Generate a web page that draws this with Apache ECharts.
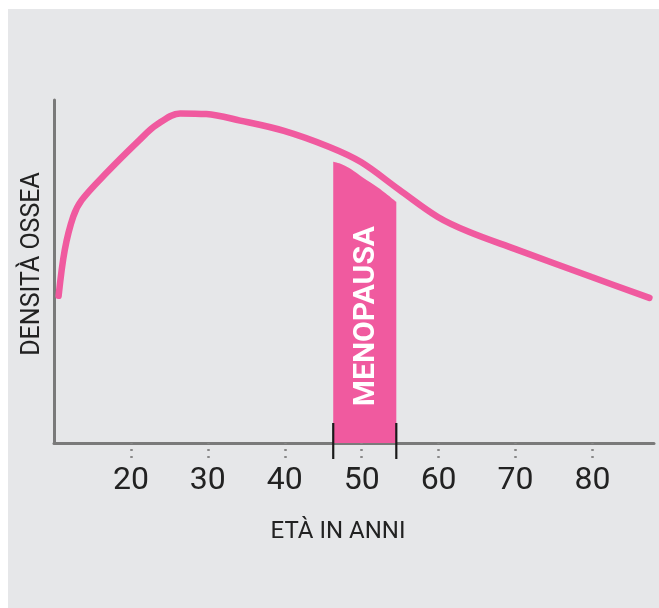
<!DOCTYPE html>
<html>
<head>
<meta charset="utf-8">
<script src="https://cdn.jsdelivr.net/npm/echarts@6/dist/echarts.min.js"></script>
<style>
html,body{margin:0;padding:0;background:#ffffff;width:659px;height:608px;overflow:hidden;}
#chart{position:absolute;left:8px;top:9px;width:651px;height:599px;background:#e6e7e9;}
</style>
</head>
<body>
<div id="chart"></div>
<script>
// Bone density curve (age, relative density)
const ageX = [10.6, 11.4, 12.5, 13.6, 16.8, 21.1, 23.3, 26.4, 29.8, 34.2, 39.9, 45.8, 49.9, 54.9, 59.9, 64.0, 69.9, 79.9, 87.4];
const densityY = [42.9, 56.3, 66.0, 70.8, 78.7, 88.3, 92.7, 96.1, 95.9, 94.0, 91.0, 86.3, 81.9, 73.8, 65.9, 61.5, 56.6, 48.4, 42.3];
// Menopause band
const menoRange = [46.3, 54.5];
const bandTopX = [46.3, 47.4, 48.6, 50.1, 52.3, 54.5];
const bandTopY = [82.0, 81.3, 79.9, 77.5, 74.2, 70.3];
const menoLabel = 'MENOPAUSA';
const menoLabelY = 37;
// Axis ticks
const xTicks = [20, 30, 40, 50, 60, 70, 80];
const xName = 'ETÀ IN ANNI';
const yName = 'DENSITÀ OSSEA';

const PINK = '#f05a9f';
const AXIS = '#7a7a7a';

const chart = echarts.init(document.getElementById('chart'));
chart.setOption({
  backgroundColor: 'transparent',
  animation: false,
  grid: {left: 46, right: 5, top: 91, bottom: 165},
  xAxis: {
    type: 'value', min: 10, max: 88, interval: 10,
    name: xName, nameLocation: 'middle', nameGap: 77,
    nameTextStyle: {fontSize: 24, color: '#222', fontFamily: 'Roboto', padding: [0, 32, 0, 0]},
    axisLine: {show: true, lineStyle: {color: AXIS, width: 3}},
    axisTick: {show: true, customValues: xTicks, length: 16,
      lineStyle: {color: '#888', width: 2.5, type: [2, 5], dashOffset: 1}},
    axisLabel: {customValues: xTicks, fontSize: 32, color: '#222', margin: 22, fontFamily: 'Roboto'},
    splitLine: {show: false}
  },
  yAxis: {
    type: 'value', min: 0, max: 100,
    name: yName, nameLocation: 'middle', nameGap: 9,
    nameTextStyle: {fontSize: 25, color: '#222', fontFamily: 'Roboto', padding: [0, 0, 0, 15]},
    axisLine: {show: true, lineStyle: {color: AXIS, width: 3}},
    axisTick: {show: false}, axisLabel: {show: false}, splitLine: {show: false}
  },
  series: [
    {
      type: 'line', data: bandTopX.map((x, i) => [x, bandTopY[i]]),
      smooth: 0.3, showSymbol: false, symbol: 'none', lineStyle: {width: 0},
      areaStyle: {color: PINK, opacity: 1}, z: 2, silent: true
    },
    {
      type: 'line', data: ageX.map((x, i) => [x, densityY[i]]),
      smooth: 0.35, showSymbol: false, symbol: 'none',
      lineStyle: {color: PINK, width: 6.5, cap: 'round'}, z: 3, silent: true
    },
    {
      type: 'custom', clip: false, z: 5, silent: true,
      data: menoRange.map(x => [x]),
      renderItem: function (params, api) {
        const p = api.coord([api.value(0), 0]);
        return {
          type: 'line',
          shape: {x1: p[0], y1: p[1] - 20, x2: p[0], y2: p[1] + 16},
          style: {stroke: '#1a1a1a', lineWidth: 2.2}
        };
      }
    },
    {
      type: 'custom', clip: false, z: 6, silent: true,
      data: [[(menoRange[0] + menoRange[1]) / 2, menoLabelY]],
      renderItem: function (params, api) {
        const p = api.coord([api.value(0), api.value(1)]);
        return {
          type: 'text', x: p[0] + 2, y: p[1], rotation: Math.PI / 2,
          style: {text: menoLabel, fill: '#ffffff', font: 'bold 30px Roboto',
            align: 'center', verticalAlign: 'middle'}
        };
      }
    }
  ]
});
</script>
</body>
</html>
